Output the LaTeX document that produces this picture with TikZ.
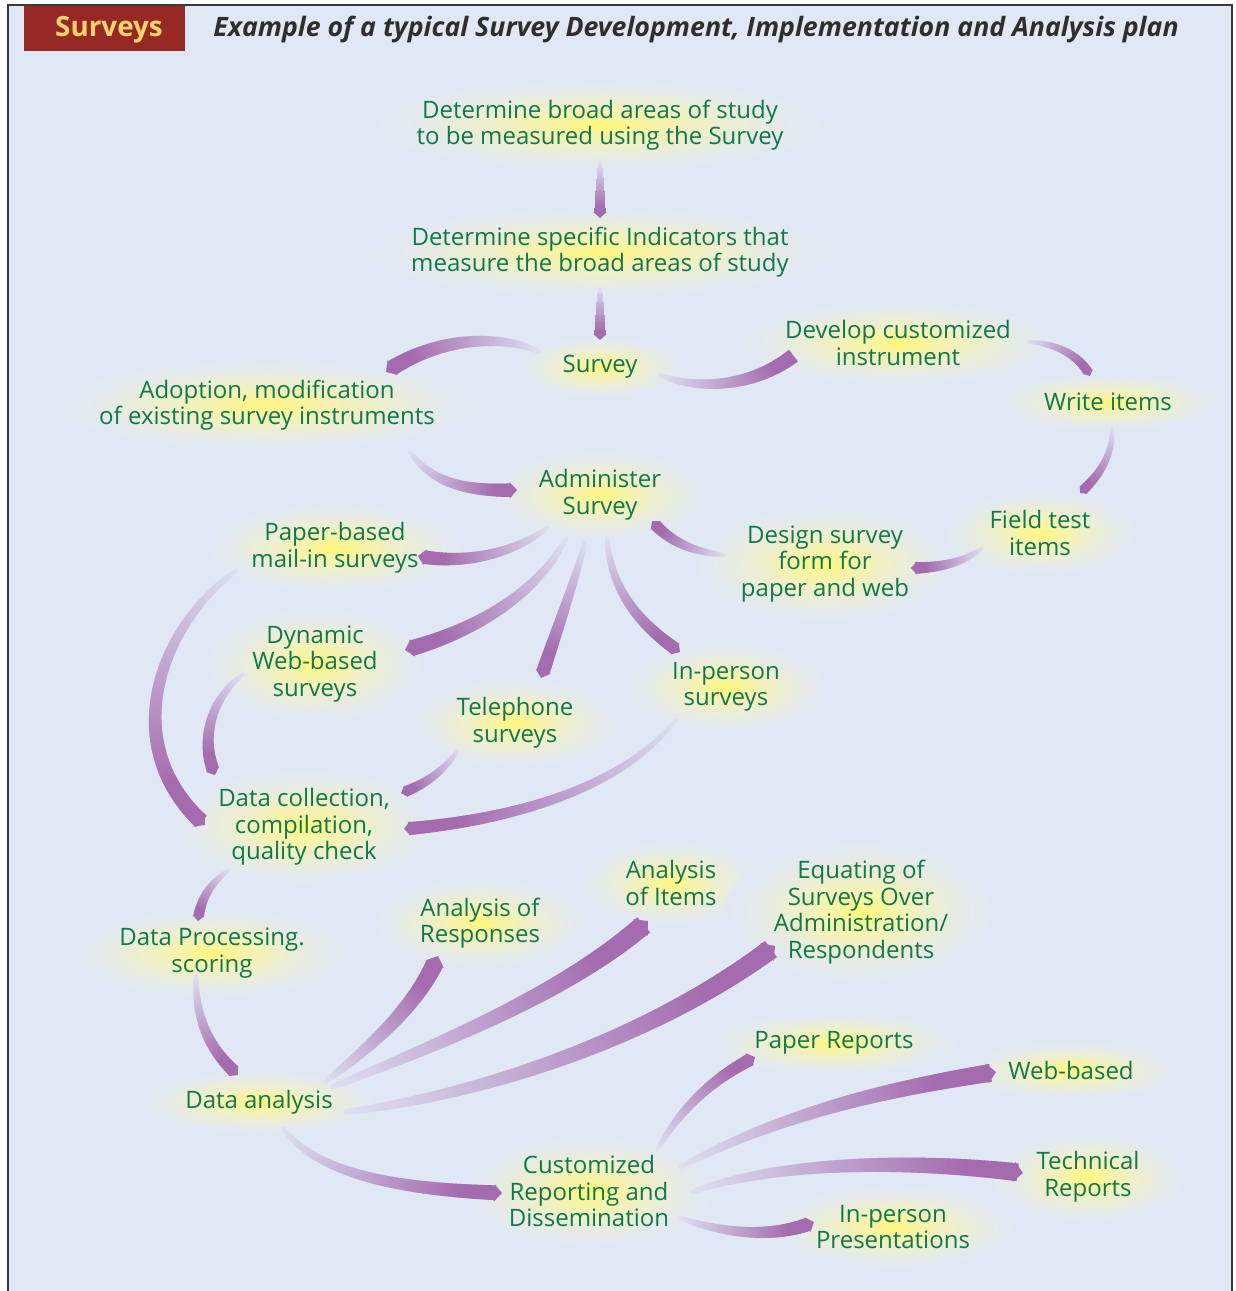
\documentclass[tikz,border=0pt]{standalone}
\usepackage{fontspec}
\setmainfont{Open Sans}
\usetikzlibrary{decorations.markings,calc}
\definecolor{bgc}{HTML}{E1E8F5}
\definecolor{purp}{HTML}{A46BAE}
\definecolor{txtc}{HTML}{12784A}
\definecolor{hdrred}{HTML}{962826}
\definecolor{hdrtxt}{HTML}{F8D36E}
\definecolor{titc}{HTML}{2E2E2E}
\definecolor{framec}{HTML}{3A3A3A}
\definecolor{glowA}{HTML}{FFF77C}
\definecolor{glowB}{HTML}{F9F4A4}
\definecolor{glowC}{HTML}{EEEFCC}
\definecolor{glowD}{HTML}{E4EAEC}
\pgfdeclareradialshading{glowshade}{\pgfpointorigin}{color(0bp)=(glowA); color(5bp)=(glowB); color(12bp)=(glowC); color(20bp)=(glowD); color(25bp)=(bgc); color(50bp)=(bgc)}
\pgfdeclarelayer{glowlayer}
\pgfdeclarelayer{arrowlayer}
\pgfsetlayers{glowlayer,arrowlayer,main}

\newcommand\ribpiece[1]{%
  \pgfmathsetmacro\rd{\pgfkeysvalueof{/pgf/decoration/mark info/distance from start}}%
  \pgfmathsetmacro\rl{\pgfdecoratedpathlength}%
  \pgfmathsetmacro\rf{\rd/\rl}%
  \pgfmathsetmacro\rhl{0.25*#1}%
  \pgfmathtruncatemacro\rskip{((\rl-\rd) < 0.85*\rhl) ? 1 : 0}%
  \ifnum\rskip=0
    \pgfmathsetmacro\rw{0.25*#1*(0.22+0.78*(\rf+0.0001)^0.6)}%
    \pgfmathtruncatemacro\rc{min(100,6+115*\rf)}%
    \fill[purp!\rc!bgc] (-0.5pt,-\rw pt) rectangle (0.5pt,\rw pt);
  \fi}
\newcommand\ribhead[1]{%
  \pgfmathsetmacro\rhl{0.25*#1}%
  \pgfmathsetmacro\rhw{0.28*#1}%
  \fill[purp] (-\rhl pt,\rhw pt) -- (0pt,0pt) -- (-\rhl pt,-\rhw pt) -- cycle;}

\tikzset{
  ribbon/.style={
    postaction={decorate,decoration={markings,
      mark=between positions 0 and 1 step 0.7pt with {\ribpiece{#1}}}},
    postaction={decorate,decoration={markings,
      mark=at position 0.99999 with {\ribhead{#1}}}}},
  lbl/.style={font=\fontsize{12}{13.3}\selectfont, text=txtc, align=center, inner sep=0pt},
}

\begin{document}
\begin{tikzpicture}[x=0.5pt,y=-0.5pt]
\useasboundingbox (0,0) rectangle (1236,1291);

% labels
\node[lbl] (n1) at (600,125) {Determine broad areas of study\\to be measured using the Survey};
\node[lbl] (n2) at (600,252) {Determine specific Indicators that\\measure the broad areas of study};
\node[lbl] (n3) at (600,367) {Survey};
\node[lbl] (n4) at (898,343) {Develop customized\\instrument};
\node[lbl] (n5) at (267,405) {Adoption, modification\\of existing survey instruments};
\node[lbl] (n6) at (1108,402) {Write items};
\node[lbl] (n7) at (600,495) {Administer\\Survey};
\node[lbl] (n8) at (1040,533) {Field test\\items};
\node[lbl] (n9) at (825,564) {Design survey\\form for\\paper and web};
\node[lbl] (n10) at (335,548) {Paper-based\\mail-in surveys};
\node[lbl] (n11) at (315,664) {Dynamic\\Web-based\\surveys};
\node[lbl] (n12) at (726,687) {In-person\\surveys};
\node[lbl] (n13) at (515,723) {Telephone\\surveys};
\node[lbl] (n14) at (304,827) {Data collection,\\compilation,\\quality check};
\node[lbl] (n15) at (212,953) {Data Processing.\\scoring};
\node[lbl] (n16) at (480,923) {Analysis of\\Responses};
\node[lbl] (n17) at (671,883) {Analysis\\of Items};
\node[lbl] (n18) at (861,912) {Equating of\\Surveys Over\\Administration/\\Respondents};
\node[lbl] (n19) at (834,1043) {Paper Reports};
\node[lbl] (n20) at (1071,1070) {Web-based};
\node[lbl] (n21) at (259,1102) {Data analysis};
\node[lbl] (n22) at (1088,1177) {Technical\\Reports};
\node[lbl] (n23) at (589,1191) {Customized\\Reporting and\\Dissemination};
\node[lbl] (n24) at (893,1227) {In-person\\Presentations};

% background and glows
\begin{pgfonlayer}{glowlayer}
\fill[bgc] (8,5) rectangle (1232,1300);
\foreach \nd in {n1,n2,n3,n4,n5,n6,n7,n8,n9,n10,n11,n12,n13,n14,n15,n16,n17,n18,n19,n20,n21,n22,n23,n24}{
  \shade[shading=glowshade] let \p1=($(\nd.north east)-(\nd.south west)$) in
    (\nd.center) ellipse ({0.5*\x1+24pt} and {0.5*\y1+10pt});
}
\end{pgfonlayer}

% header
\fill[hdrred] (24,6) rectangle (185,51);
\node[font=\bfseries\fontsize{13.9}{16}\selectfont, text=hdrtxt, inner sep=0pt] (hdr) at (109,29.5) {Surveys};
\node[font=\bfseries\itshape\fontsize{13.35}{16}\selectfont, text=titc, anchor=west, inner sep=0pt] (title) at (213,29.5) {Example of a typical Survey Development, Implementation and Analysis plan};
\draw[framec, line width=1pt] (8,1300) |- (1232,5) -- (1232,1300);

% connectors
\begin{pgfonlayer}{arrowlayer}
\path[ribbon=12] ([shift={(0,38)}]n1.center) -- ([shift={(0,-34)}]n2.center);
\path[ribbon=12] ([shift={(0,36)}]n2.center) -- ([shift={(0,-27)}]n3.center);
\path[ribbon=16] ([shift={(-60,-15)}]n3.center) .. controls (505,335) and (440,335) .. ([shift={(119,-33)}]n5.center);
\path[ribbon=15] ([shift={(60,8)}]n3.center) .. controls (690,388) and (750,392) .. ([shift={(-100,9)}]n4.center);
\path[ribbon=10] ([shift={(130,-1)}]n4.center) .. controls (1055,343) and (1080,355) .. ([shift={(-18,-26)}]n6.center);
\path[ribbon=10] ([shift={(4,26)}]n6.center) .. controls (1113,455) and (1100,475) .. ([shift={(40,-40)}]n8.center);
\path[ribbon=12] ([shift={(-58,15)}]n8.center) .. controls (965,562) and (940,568) .. ([shift={(86,4)}]n9.center);
\path[ribbon=12] ([shift={(-100,-9)}]n9.center) .. controls (700,553) and (672,545) .. ([shift={(52,26)}]n7.center);
\path[ribbon=14] ([shift={(143,47)}]n5.center) .. controls (430,480) and (460,492) .. ([shift={(-83,-5)}]n7.center);
\path[ribbon=14] ([shift={(-52,32)}]n7.center) .. controls (520,550) and (470,566) .. ([shift={(83,8)}]n10.center);
\path[ribbon=16] ([shift={(-34,43)}]n7.center) .. controls (540,590) and (480,630) .. ([shift={(90,-14)}]n11.center);
\path[ribbon=14] ([shift={(-15,47)}]n7.center) .. controls (572,590) and (555,635) .. ([shift={(26,-45)}]n13.center);
\path[ribbon=13] ([shift={(7,42)}]n7.center) .. controls (610,590) and (640,625) .. ([shift={(-46,-35)}]n12.center);
\path[ribbon=16] ([shift={(-98,22)}]n10.center) .. controls (160,625) and (115,745) .. ([shift={(-99,-2)}]n14.center);
\path[ribbon=13] ([shift={(-72,10)}]n11.center) .. controls (210,700) and (200,740) .. ([shift={(-89,-52)}]n14.center);
\path[ribbon=11] ([shift={(-57,27)}]n13.center) .. controls (445,770) and (425,785) .. ([shift={(97,-34)}]n14.center);
\path[ribbon=13] ([shift={(-50,33)}]n12.center) .. controls (620,790) and (510,820) .. ([shift={(100,2)}]n14.center);
\path[ribbon=11] ([shift={(-75,43)}]n14.center) .. controls (210,883) and (200,900) .. ([shift={(-14,-32)}]n15.center);
\path[ribbon=13] ([shift={(-16,22)}]n15.center) .. controls (195,1020) and (210,1050) .. ([shift={(-21,-27)}]n21.center);
\path[ribbon=18] ([shift={(66,-20)}]n21.center) .. controls (380,1040) and (420,1000) .. ([shift={(-42,33)}]n16.center);
\path[ribbon=20] ([shift={(73,-15)}]n21.center) .. controls (450,1040) and (570,990) .. ([shift={(-23,38)}]n17.center);
\path[ribbon=20] ([shift={(86,10)}]n21.center) .. controls (480,1095) and (650,1040) .. ([shift={(-86,34)}]n18.center);
\path[ribbon=15] ([shift={(24,26)}]n21.center) .. controls (320,1180) and (420,1190) .. ([shift={(-87,2)}]n23.center);
\path[ribbon=13] ([shift={(68,-41)}]n23.center) .. controls (680,1110) and (710,1080) .. ([shift={(-79,14)}]n19.center);
\path[ribbon=18] ([shift={(91,-24)}]n23.center) .. controls (780,1115) and (880,1090) .. ([shift={(-75,2)}]n20.center);
\path[ribbon=18] ([shift={(103,1)}]n23.center) .. controls (780,1160) and (920,1160) .. ([shift={(-65,-4)}]n22.center);
\path[ribbon=14] ([shift={(91,27)}]n23.center) .. controls (720,1232) and (770,1240) .. ([shift={(-79,-5)}]n24.center);
\end{pgfonlayer}
\end{tikzpicture}
\end{document}
